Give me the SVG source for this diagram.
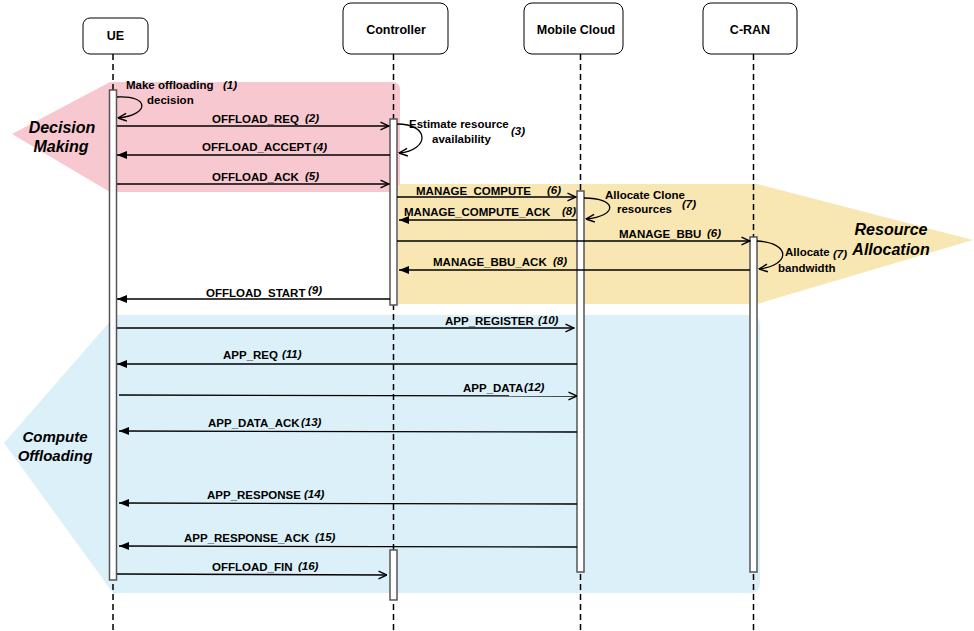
<svg xmlns="http://www.w3.org/2000/svg" width="974" height="631" viewBox="0 0 974 631">
<style>
.hdr{fill:#fff;stroke:#000;stroke-width:1}
.hdrt{font:bold 12.5px "Liberation Sans",Arial,sans-serif;text-anchor:middle;fill:#000}
.life{stroke:#000;stroke-width:1.5;stroke-dasharray:6 4;fill:none}
.bar{fill:#fff;stroke:#555;stroke-width:1.5}
.msg{stroke:#000;stroke-width:1.3;fill:none}
.lbl{font:bold 11.5px "Liberation Sans",Arial,sans-serif;fill:#000}
.num{font:italic bold 11.5px "Liberation Sans",Arial,sans-serif;fill:#000}
.big{font:italic bold 16px "Liberation Sans",Arial,sans-serif;fill:#000;text-anchor:middle}
</style>
<defs>
<marker id="open" viewBox="0 0 10 10" refX="9.5" refY="5" markerWidth="10" markerHeight="10" markerUnits="userSpaceOnUse" orient="auto">
<path d="M1,1.2 L9.5,5 L1,8.8" fill="none" stroke="#000" stroke-width="1.4"/>
</marker>
<marker id="block" viewBox="0 0 10 10" refX="10" refY="5" markerWidth="10" markerHeight="10" markerUnits="userSpaceOnUse" orient="auto">
<path d="M0,1 L10,5 L0,9 Z" fill="#000"/>
</marker>
</defs>
<rect width="974" height="631" fill="#fff"/>
<g id="regions">
<path id="decision-making" d="M12,134 L110,82 L392,82 Q400,82 400,90 L400,185 Q400,192 392,192 L110,192 Z" fill="#f8c8d0"/>
<path id="resource-allocation" d="M398,188 Q398,184 402,184 L757,184 L973,240 L757,304 L398,304 Z" fill="#f8e7b3"/>
<path id="compute-offloading" d="M4,443 L113,318 L113,315 L750,315 Q760,315 760,325 L760,583 Q760,593 750,593 L113,593 Z" fill="#dbf0f8"/>
<text class="big" x="62" y="133">Decision</text>
<text class="big" x="61" y="152">Making</text>
<text class="big" x="891" y="235">Resource</text>
<text class="big" x="891" y="255">Allocation</text>
<text class="big" x="55" y="442" style="font-size:15px">Compute</text>
<text class="big" x="55" y="461" style="font-size:15px">Offloading</text>
</g>
<g id="ue">
<rect class="hdr" x="83" y="18" width="65" height="36" rx="7"/>
<text class="hdrt" x="115.5" y="40">UE</text>
<line class="life" x1="113" y1="54" x2="113" y2="631"/>
<rect class="bar" x="109.5" y="90" width="7" height="490"/>
</g>
<g id="controller">
<rect class="hdr" x="343" y="3" width="105" height="51" rx="8"/>
<text class="hdrt" x="396" y="34">Controller</text>
<line class="life" x1="393.5" y1="54" x2="393.5" y2="631"/>
<rect class="bar" x="390" y="119" width="7" height="186"/>
<rect class="bar" x="390" y="550" width="7" height="50"/>
</g>
<g id="mobile-cloud">
<rect class="hdr" x="524" y="3" width="99" height="51" rx="8"/>
<text class="hdrt" x="576" y="34">Mobile Cloud</text>
<line class="life" x1="580.5" y1="54" x2="580.5" y2="631"/>
<rect class="bar" x="577" y="191" width="7" height="381"/>
</g>
<g id="c-ran">
<rect class="hdr" x="703" y="3" width="94" height="51" rx="8"/>
<text class="hdrt" x="750" y="34">C-RAN</text>
<line class="life" x1="753.5" y1="54" x2="753.5" y2="631"/>
<rect class="bar" x="750" y="237" width="7" height="335"/>
</g>
<g id="connectors">
<path class="msg" d="M117,97 C150,95 150,115 118,118" marker-end="url(#open)"/>
<text class="lbl" x="126" y="89">Make offloading</text><text class="num" x="223" y="89">(1)</text>
<text class="lbl" x="147" y="104">decision</text>

<line class="msg" x1="117" y1="126" x2="389" y2="126" marker-end="url(#open)"/>
<text class="lbl" x="212" y="123">OFFLOAD_REQ</text><text class="num" x="305" y="122">(2)</text>

<path class="msg" d="M397,124 C430,124 430,150 399,153" marker-end="url(#open)"/>
<text class="lbl" x="409" y="128">Estimate resource</text><text class="num" x="511" y="135">(3)</text>
<text class="lbl" x="432" y="143">availability</text>

<line class="msg" x1="390" y1="155" x2="117" y2="155" marker-end="url(#block)"/>
<text class="lbl" x="202" y="151">OFFLOAD_ACCEPT</text><text class="num" x="313" y="151">(4)</text>

<line class="msg" x1="117" y1="184" x2="389" y2="184" marker-end="url(#open)"/>
<text class="lbl" x="212" y="181">OFFLOAD_ACK</text><text class="num" x="305" y="180">(5)</text>

<line class="msg" x1="397" y1="197" x2="576" y2="197" marker-end="url(#open)"/>
<text class="lbl" x="416" y="195">MANAGE_COMPUTE</text><text class="num" x="547" y="194">(6)</text>

<path class="msg" d="M584,198 C618,198 618,216 586,219" marker-end="url(#open)"/>
<text class="lbl" x="605" y="199">Allocate Clone</text><text class="num" x="682" y="208">(7)</text>
<text class="lbl" x="617" y="213">resources</text>

<line class="msg" x1="577" y1="220" x2="399" y2="220" marker-end="url(#block)"/>
<text class="lbl" x="404" y="216">MANAGE_COMPUTE_ACK</text><text class="num" x="562" y="215">(8)</text>

<line class="msg" x1="397" y1="241" x2="750" y2="241" marker-end="url(#open)"/>
<text class="lbl" x="619" y="238">MANAGE_BBU</text><text class="num" x="707" y="237">(6)</text>

<path class="msg" d="M757,241 C791,243 791,265 759,269" marker-end="url(#open)"/>
<text class="lbl" x="785" y="256">Allocate</text><text class="num" x="833" y="258">(7)</text>
<text class="lbl" x="778" y="272">bandwidth</text>

<line class="msg" x1="750" y1="270" x2="399" y2="270" marker-end="url(#block)"/>
<text class="lbl" x="433" y="266">MANAGE_BBU_ACK</text><text class="num" x="553" y="265">(8)</text>

<line class="msg" x1="390" y1="299" x2="117" y2="299" marker-end="url(#block)"/>
<text class="lbl" x="206" y="297">OFFLOAD_START</text><text class="num" x="308" y="294">(9)</text>

<line class="msg" x1="117" y1="328" x2="574" y2="328" marker-end="url(#open)"/>
<text class="lbl" x="445" y="325">APP_REGISTER</text><text class="num" x="538" y="324">(10)</text>

<line class="msg" x1="577" y1="364" x2="117" y2="364" marker-end="url(#block)"/>
<text class="lbl" x="223" y="359">APP_REQ</text><text class="num" x="282" y="358">(11)</text>

<line class="msg" x1="119" y1="395" x2="577" y2="396" marker-end="url(#open)"/>
<text class="lbl" x="463" y="392">APP_DATA</text><text class="num" x="524" y="391">(12)</text>

<line class="msg" x1="577" y1="432" x2="119" y2="431" marker-end="url(#block)"/>
<text class="lbl" x="208" y="427">APP_DATA_ACK</text><text class="num" x="301" y="426">(13)</text>

<line class="msg" x1="577" y1="504" x2="119" y2="503" marker-end="url(#block)"/>
<text class="lbl" x="207" y="499">APP_RESPONSE</text><text class="num" x="304" y="498">(14)</text>

<line class="msg" x1="577" y1="547" x2="119" y2="546" marker-end="url(#block)"/>
<text class="lbl" x="184" y="542">APP_RESPONSE_ACK</text><text class="num" x="315" y="541">(15)</text>

<line class="msg" x1="117" y1="574" x2="387" y2="575" marker-end="url(#open)"/>
<text class="lbl" x="212" y="571">OFFLOAD_FIN</text><text class="num" x="298" y="570">(16)</text>
</g>
</svg>
